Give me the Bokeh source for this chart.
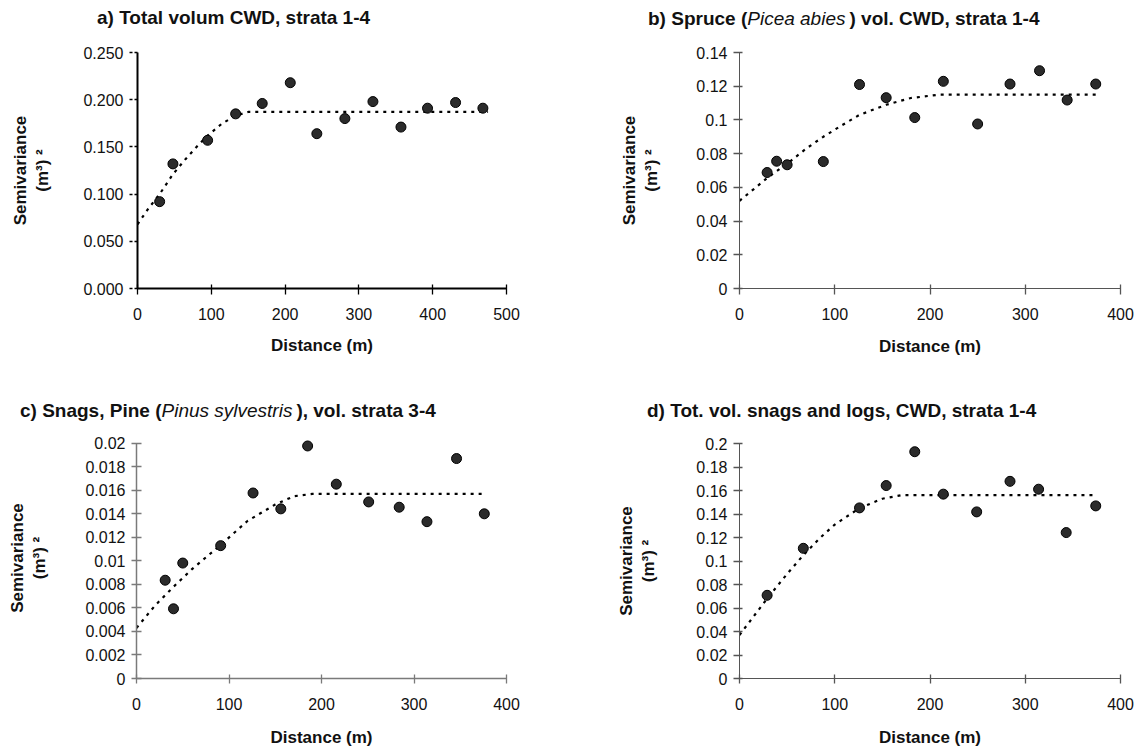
from bokeh.plotting import figure
from bokeh.models import Div, FixedTicker, Range1d
from bokeh.layouts import column, row
from bokeh.embed import file_html
from bokeh.resources import INLINE

FONT = "Liberation Sans"

# ---------------- data ----------------
# a) Total volum CWD, strata 1-4
a_dist = [30, 48, 95, 133, 169, 207, 243, 281, 319, 357, 393, 431, 468]
a_semi = [0.092, 0.132, 0.157, 0.185, 0.196, 0.218, 0.164, 0.180, 0.198, 0.171, 0.191, 0.197, 0.191]
a_model_dist = [0, 15, 30, 48, 65, 80, 95, 115, 133, 150, 475]
a_model_semi = [0.068, 0.085, 0.100, 0.121, 0.137, 0.150, 0.162, 0.175, 0.183, 0.187, 0.187]
a_xticks = [0, 100, 200, 300, 400, 500]
a_yticks = [0, 0.05, 0.1, 0.15, 0.2, 0.25]
a_ytick_labels = ["0.000", "0.050", "0.100", "0.150", "0.200", "0.250"]

# b) Spruce (Picea abies) vol. CWD, strata 1-4
b_dist = [29, 39, 50, 88, 126, 154, 184, 214, 250, 284, 315, 344, 374]
b_semi = [0.0688, 0.0755, 0.0734, 0.0753, 0.121, 0.1132, 0.1014, 0.1229, 0.0976, 0.1213, 0.1292, 0.1118, 0.1213]
b_model_dist = [0, 15, 30, 50, 70, 88, 108, 126, 154, 180, 210, 375]
b_model_semi = [0.052, 0.059, 0.066, 0.074, 0.083, 0.090, 0.097, 0.103, 0.109, 0.113, 0.115, 0.115]
b_xticks = [0, 100, 200, 300, 400]
b_yticks = [0, 0.02, 0.04, 0.06, 0.08, 0.1, 0.12, 0.14]
b_ytick_labels = ["0", "0.02", "0.04", "0.06", "0.08", "0.1", "0.12", "0.14"]

# c) Snags, Pine (Pinus sylvestris), vol. strata 3-4
c_dist = [31, 40, 50, 91, 126, 156, 185, 216, 251, 284, 314, 346, 376]
c_semi = [0.00836, 0.00593, 0.00982, 0.0113, 0.01578, 0.01443, 0.01978, 0.01653, 0.01502, 0.01457, 0.01334, 0.01871, 0.01401]
c_model_dist = [0, 20, 40, 60, 90, 120, 150, 170, 190, 375]
c_model_semi = [0.0043, 0.0062, 0.0078, 0.0093, 0.0113, 0.0134, 0.0148, 0.0155, 0.0157, 0.0157]
c_xticks = [0, 100, 200, 300, 400]
c_yticks = [0, 0.002, 0.004, 0.006, 0.008, 0.01, 0.012, 0.014, 0.016, 0.018, 0.02]
c_ytick_labels = ["0", "0.002", "0.004", "0.006", "0.008", "0.01", "0.012", "0.014", "0.016", "0.018", "0.02"]

# d) Tot. vol. snags and logs, CWD, strata 1-4
d_dist = [29, 67, 126, 154, 184, 214, 249, 284, 314, 343, 374]
d_semi = [0.0708, 0.1108, 0.1452, 0.1642, 0.193, 0.1569, 0.1418, 0.1678, 0.1611, 0.1242, 0.1469]
d_model_dist = [0, 15, 30, 50, 67, 85, 100, 126, 150, 170, 375]
d_model_semi = [0.037, 0.053, 0.069, 0.089, 0.105, 0.120, 0.131, 0.145, 0.153, 0.156, 0.156]
d_xticks = [0, 100, 200, 300, 400]
d_yticks = [0, 0.02, 0.04, 0.06, 0.08, 0.1, 0.12, 0.14, 0.16, 0.18, 0.2]
d_ytick_labels = ["0", "0.02", "0.04", "0.06", "0.08", "0.1", "0.12", "0.14", "0.16", "0.18", "0.2"]

x_label = "Distance (m)"
y_label = "Semivariance\n(m³) ²"

titles = {
    "a": "a) Total volum CWD, strata 1-4",
    "b": "b) Spruce (<i style='font-weight:normal;padding-right:4px'>Picea abies</i>) vol. CWD, strata 1-4",
    "c": "c) Snags, Pine (<i style='font-weight:normal;padding-right:4px'>Pinus sylvestris</i>), vol. strata 3-4",
    "d": "d) Tot. vol. snags and logs, CWD, strata 1-4",
}


def title_div(html, width, height, pad_left, pad_top):
    inner = (f"<div style=\"font-family:'{FONT}';font-size:19px;font-weight:bold;"
             f"white-space:nowrap;padding-left:{pad_left}px;padding-top:{pad_top}px;"
             f"line-height:22px;color:#111\">{html}</div>")
    return Div(text=inner, width=width, height=height, margin=0)


def panel(dist, semi, mdist, msemi, xticks, yticks, ylabels, xmax, ymax, ytop,
          width, height, bl, br, bt, bb, axis_color, axis_width,
          ytick_in, ytick_out, ytick_dash, ylabel_standoff, xlab_so, xaxlab_so, xtick_out):
    p = figure(width=width, height=height, output_backend="svg", toolbar_location=None,
               x_range=Range1d(0, xmax), y_range=Range1d(0, ytop))
    p.min_border_left = bl
    p.min_border_right = br
    p.min_border_top = bt
    p.min_border_bottom = bb
    p.outline_line_color = None
    p.grid.visible = False
    p.background_fill_color = "white"

    p.line(mdist, msemi, line_color="black", line_width=2.2, line_dash="3 5")
    p.scatter(dist, semi, size=10, fill_color="#2b2b2b", line_color="#000000", line_width=1)

    xa = p.xaxis[0]
    xa.ticker = FixedTicker(ticks=xticks)
    xa.axis_line_color = axis_color
    xa.axis_line_width = axis_width
    xa.major_tick_line_color = axis_color
    xa.major_tick_line_width = 1.3
    xa.major_tick_in = 4
    xa.major_tick_out = xtick_out
    xa.minor_tick_line_color = None
    xa.major_label_standoff = xlab_so
    xa.major_label_text_font = FONT
    xa.major_label_text_font_size = "16px"
    xa.major_label_text_color = "#111111"
    xa.axis_label = x_label
    xa.axis_label_text_font = FONT
    xa.axis_label_text_font_style = "bold"
    xa.axis_label_text_font_size = "17px"
    xa.axis_label_text_color = "#111111"
    xa.axis_label_standoff = xaxlab_so

    ya = p.yaxis[0]
    ya.ticker = FixedTicker(ticks=yticks)
    ya.bounds = (0, ymax)
    ya.major_label_overrides = dict(zip(yticks, ylabels))
    ya.axis_line_color = axis_color
    ya.axis_line_width = axis_width
    ya.major_tick_line_color = axis_color
    ya.major_tick_line_width = 1.3
    ya.major_tick_in = ytick_in
    ya.major_tick_out = ytick_out
    if ytick_dash:
        ya.major_tick_line_dash = ytick_dash
    ya.minor_tick_line_color = None
    ya.major_label_standoff = 6
    ya.major_label_text_font = FONT
    ya.major_label_text_font_size = "16px"
    ya.major_label_text_color = "#111111"
    ya.axis_label = y_label
    ya.axis_label_text_font = FONT
    ya.axis_label_text_font_style = "bold"
    ya.axis_label_text_font_size = "17px"
    ya.axis_label_text_color = "#111111"
    ya.axis_label_standoff = ylabel_standoff
    return p


W_L, W_R = 568, 569
H1_DIV, H1_FIG = 36, 354
H2_DIV, H2_FIG = 38, 322

pa = panel(a_dist, a_semi, a_model_dist, a_model_semi, a_xticks, a_yticks, a_ytick_labels,
           500, 0.25, 0.25, W_L, H1_FIG, 137, 62, 16, 102, "#000000", 2, 0, 8, "3 2", 28, 13, 13, 6)
pb = panel(b_dist, b_semi, b_model_dist, b_model_semi, b_xticks, b_yticks, b_ytick_labels,
           400, 0.14, 0.14, W_R, H1_FIG, 171, 17, 16, 102, "#555555", 1, 3, 6, None, 32, 13, 14, 6)
# panel c: the range goes slightly above the last tick so that the top point is not cut
pc = panel(c_dist, c_semi, c_model_dist, c_model_semi, c_xticks, c_yticks, c_ytick_labels,
           400, 0.02, 0.0205, W_L, H2_FIG, 136, 62, 9, 72, "#7a7a7a", 1.5, 5, 5, None, 33, 14, 15, 5)
pd = panel(d_dist, d_semi, d_model_dist, d_model_semi, d_xticks, d_yticks, d_ytick_labels,
           400, 0.2, 0.2, W_R, H2_FIG, 171, 17, 15, 72, "#555555", 1, 3, 6, None, 35, 14, 15, 5)

da = title_div(titles["a"], W_L, H1_DIV, 97, 7)
db = title_div(titles["b"], W_R, H1_DIV, 80, 8)
dc = title_div(titles["c"], W_L, H2_DIV, 20, 10)
dd = title_div(titles["d"], W_R, H2_DIV, 79, 10)

layout = column(
    row(column(da, pa, spacing=0), column(db, pb, spacing=0), spacing=0),
    row(column(dc, pc, spacing=0), column(dd, pd, spacing=0), spacing=0),
    spacing=0,
)

open("out.html", "w").write(file_html(layout, INLINE))
